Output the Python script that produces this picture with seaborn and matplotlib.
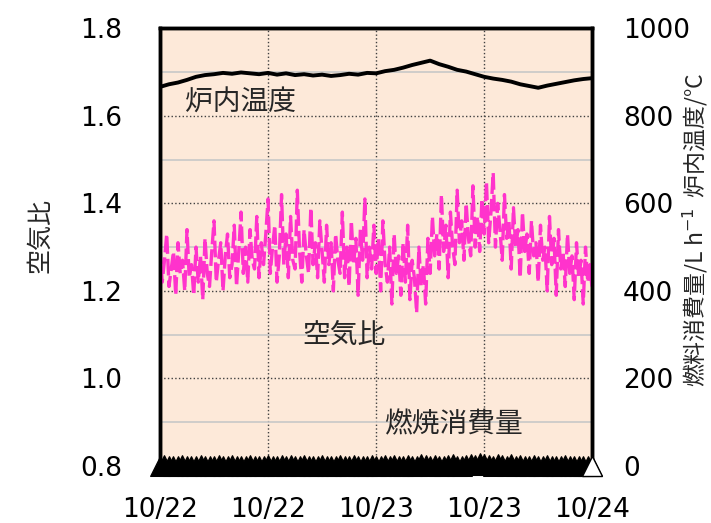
import matplotlib
matplotlib.use('Agg')
import matplotlib.pyplot as plt
import matplotlib.dates as mdates
from matplotlib.ticker import MultipleLocator
import pandas as pd
import numpy as np
import seaborn as sns

# -----------data---------------
# air ratio, every 15 min from 10/22 00:00
air_ratio = [1.30, 1.22, 1.27, 1.33, 1.21, 1.25, 1.29, 1.19, 1.31, 1.24, 1.27, 1.20,
             1.34, 1.23, 1.26, 1.19, 1.30, 1.22, 1.28, 1.18, 1.32, 1.24, 1.21, 1.29,
             1.36, 1.22, 1.27, 1.31, 1.20, 1.28, 1.33, 1.23, 1.26, 1.35, 1.21, 1.29,
             1.38, 1.24, 1.30, 1.22, 1.34, 1.27, 1.25, 1.37, 1.23, 1.31, 1.26, 1.33,
             1.41, 1.24, 1.30, 1.35, 1.22, 1.28, 1.42, 1.26, 1.33, 1.23, 1.37, 1.27,
             1.25, 1.43, 1.29, 1.22, 1.34, 1.28, 1.24, 1.39, 1.26, 1.31, 1.23, 1.36,
             1.29, 1.22, 1.35, 1.26, 1.31, 1.20, 1.33, 1.27, 1.24, 1.38, 1.23, 1.30,
             1.21, 1.36, 1.26, 1.32, 1.19, 1.34, 1.27, 1.41, 1.23, 1.30, 1.25, 1.35,
             1.24, 1.32, 1.20, 1.36, 1.26, 1.22, 1.30, 1.17, 1.33, 1.24, 1.28, 1.19,
             1.31, 1.22, 1.35, 1.18, 1.27, 1.23, 1.15, 1.30, 1.21, 1.26, 1.17, 1.32,
             1.24, 1.37, 1.28, 1.33, 1.25, 1.42, 1.29, 1.35, 1.23, 1.38, 1.30, 1.26,
             1.43, 1.31, 1.36, 1.27, 1.40, 1.32, 1.28, 1.44, 1.30, 1.37, 1.29, 1.41,
             1.33, 1.45, 1.31, 1.38, 1.47, 1.30, 1.40, 1.34, 1.27, 1.42, 1.32, 1.36,
             1.25, 1.39, 1.30, 1.34, 1.23, 1.38, 1.29, 1.33, 1.24, 1.36, 1.28, 1.31,
             1.22, 1.35, 1.27, 1.30, 1.20, 1.37, 1.26, 1.32, 1.19, 1.34, 1.25, 1.29,
             1.21, 1.33, 1.24, 1.28, 1.18, 1.31, 1.23, 1.27, 1.17, 1.30, 1.22, 1.26,
             1.20]

# furnace temperature, hourly
furnace_temp = [866, 872, 876, 882, 889, 893, 895, 898, 896, 899, 897, 895, 898,
                894, 897, 893, 895, 892, 894, 891, 893, 896, 894, 898, 897,
                902, 905, 910, 916, 921, 926, 918, 912, 905, 901, 895, 889,
                885, 882, 878, 872, 868, 864, 869, 873, 877, 881, 884, 886]

# fuel consumption, every 30 min
fuel = [0, 2, 0, 1, 0, 3, 0, 1, 0, 2, 0, 1, 0, 2, 0, 1, 3, 0, 1, 0, 2, 0, 1, 0,
        2, 0, 1, 2, 0, 3, 1, 0, 2, 0, 1, 0, 2, 0, 1, 0, 3, 0, 1, 2, 0, 1, 0, 2,
        0, 1, 2, 0, 3, 1, 0, 2, 0, 1, 4, 2, 0, 3, 1, 0, 2, 4, 1, 0, 3, 5, 2, 6,
        5, 3, 1, 4, 2, 0, 4, 1, 2, 0, 1, 3, 0, 1, 2, 0, 1, 0, 2, 0, 1, 0, 0, 1,
        0]

start = '2020-10-22 00:00'
air_time = pd.date_range(start, periods=len(air_ratio), freq='15min')
temp_time = pd.date_range(start, periods=len(furnace_temp), freq='60min')
fuel_time = pd.date_range(start, periods=len(fuel), freq='30min')

tick_dates = pd.date_range(start, periods=5, freq='12h')

df_air = pd.DataFrame({'time': air_time, 'air': air_ratio})
df_temp = pd.DataFrame({'time': temp_time, 'temp': furnace_temp})
df_fuel = pd.DataFrame({'time': fuel_time, 'fuel': fuel})

sns.set_style('white')
jp = ['Noto Sans CJK JP', 'DejaVu Sans']
num = ['DejaVu Sans', 'Noto Sans CJK JP']
plt.rcParams['font.family'] = jp

fig = plt.figure(figsize=(7.11, 5.23), dpi=100)
ax = fig.add_axes([0.225, 0.109, 0.608, 0.837])
ax.set_facecolor('#FDE9D9')
ax2 = ax.twinx()
ax2.patch.set_visible(False)

# grid
ax.yaxis.set_major_locator(MultipleLocator(0.2))
ax.yaxis.set_minor_locator(MultipleLocator(0.1))
ax.grid(which='minor', axis='y', color='#C8C8C8', lw=1.2, ls='-')
ax.grid(which='major', axis='y', color='#404040', lw=1.0, ls=':')
ax.grid(which='major', axis='x', color='#404040', lw=1.0, ls=':')
ax.set_axisbelow(True)

sns.lineplot(data=df_air, x='time', y='air', ax=ax, color='#FF33CC', lw=2.4,
             dashes=False, zorder=3)
ax.lines[-1].set_dashes([5, 1.5])
ax.set_ylim(0.8, 1.8)
ax.set_xlim(tick_dates[0], tick_dates[-1])
ax.set_xticks(tick_dates)
ax.xaxis.set_major_formatter(mdates.DateFormatter('%m/%d'))

sns.lineplot(data=df_temp, x='time', y='temp', ax=ax2, color='black', lw=2.8, zorder=3)
sns.lineplot(data=df_fuel, x='time', y='fuel', ax=ax2, color='black', lw=1.5,
             marker='^', markersize=15, markeredgecolor='black', clip_on=False, zorder=4)
ax2.plot(df_fuel['time'].iloc[-1:], df_fuel['fuel'].iloc[-1:], ls='none', marker='^', markersize=14,
         markerfacecolor='white', markeredgecolor='black', clip_on=False, zorder=5)
ax2.set_ylim(0, 1000)
ax2.yaxis.set_major_locator(MultipleLocator(200))
ax2.set_xlim(tick_dates[0], tick_dates[-1])

for a in (ax, ax2):
    for s in a.spines.values():
        s.set_color('black')
        s.set_linewidth(2.5)
    a.set_xlabel('')
    a.set_ylabel('')

ax.tick_params(axis='both', which='both', length=0)
ax2.tick_params(axis='both', which='both', length=0)
ax.tick_params(axis='y', pad=27)
ax.tick_params(axis='x', pad=22)
ax2.tick_params(axis='y', pad=22)
for lab in ax.get_xticklabels() + ax.get_yticklabels() + ax2.get_yticklabels():
    lab.set_fontsize(19)
    lab.set_family(num)
    lab.set_color('black')

ax.set_yticklabels(['%.1f' % v for v in ax.get_yticks()])

fig.text(0.057, 0.55, '空気比', rotation=90, fontsize=18, ha='center', va='center', family=jp)
fig.text(0.978, 0.56, '燃料消費量/L h$^{-1}$  炉内温度/°C', rotation=90, fontsize=16.5,
         ha='center', va='center', family=jp)

ax.text(0.058, 0.83, '炉内温度', transform=ax.transAxes, fontsize=20, va='center', family=jp)
ax.text(0.33, 0.30, '空気比', transform=ax.transAxes, fontsize=20, va='center', family=jp)
ax.text(0.518, 0.095, '燃焼消費量', transform=ax.transAxes, fontsize=20, va='center', family=jp)

fig.savefig('out.png', dpi=100)
